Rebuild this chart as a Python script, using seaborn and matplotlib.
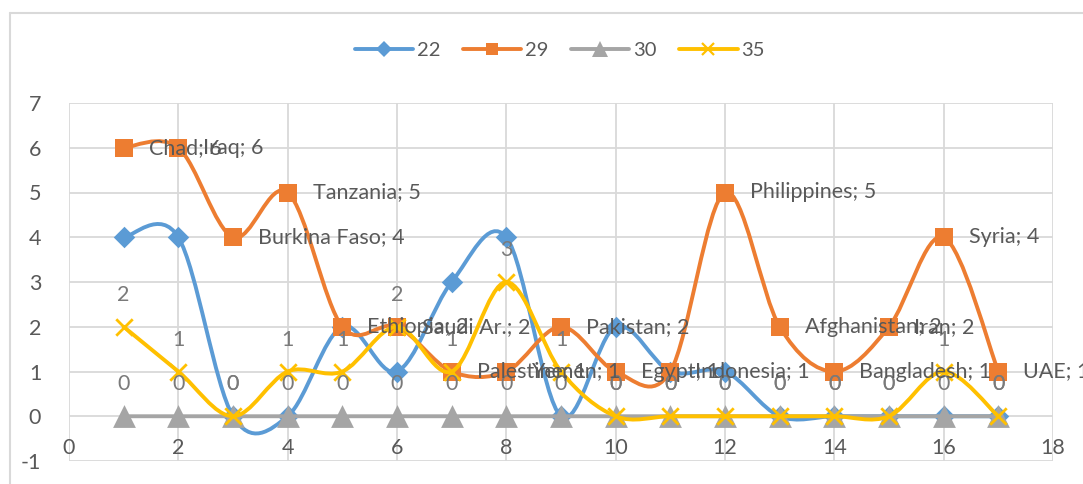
import numpy as np
import matplotlib
matplotlib.use("Agg")
import matplotlib.pyplot as plt
from matplotlib.path import Path
from matplotlib.patches import PathPatch
from matplotlib.lines import Line2D
import seaborn as sns

# ---- data ----
x_vals = list(range(1, 18))
countries = ["Chad", "Iraq", "Burkina Faso", "Tanzania", "Ethiopia", "Saudi Ar.",
             "Palestine", "Yemen", "Pakistan", "Egypt", "Indonesia", "Philippines",
             "Afghanistan", "Bangladesh", "Iran", "Syria", "UAE"]
s22 = [4, 4, 0, 0, 2, 1, 3, 4, 0, 2, 1, 1, 0, 0, 0, 0, 0]
s29 = [6, 6, 4, 5, 2, 2, 1, 1, 2, 1, 1, 5, 2, 1, 2, 4, 1]
s30 = [0, 0, 0, 0, 0, 0, 0, 0, 0, 0, 0, 0, 0, 0, 0, 0, 0]
s35 = [2, 1, 0, 1, 1, 2, 1, 3, 1, 0, 0, 0, 0, 0, 0, 1, 0]
series_names = ["22", "29", "30", "35"]
x_ticks = [0, 2, 4, 6, 8, 10, 12, 14, 16, 18]
y_ticks = [-1, 0, 1, 2, 3, 4, 5, 6, 7]

# ---- style ----
sns.set_theme(style="white")
plt.rcParams["font.family"] = ["Lato", "DejaVu Sans"]
TXT = "#595959"
LBL = "#7a7a7a"
GRID = "#d9d9d9"
colors = {"22": "#5B9BD5", "29": "#ED7D31", "30": "#A5A5A5", "35": "#FFC000"}
markers = {"22": "D", "29": "s", "30": "^", "35": "x"}
msize = {"22": 120, "29": 165, "30": 270, "35": 140}
FS = 15.5
LW = 2.8

W, H = 1083, 484
fig = plt.figure(figsize=(W / 100, H / 100), dpi=100)
fig.patch.set_facecolor("white")
ax = fig.add_axes([69 / W, 1 - 461 / H, (1053 - 69) / W, (461 - 103) / H])
ax.set_xlim(0, 18)
ax.set_ylim(-1, 7)
ax.set_xticks(x_ticks)
ax.set_yticks(y_ticks)
ax.set_yticklabels([str(v) for v in y_ticks])
ax.grid(True, color=GRID, lw=1.3, zorder=0)
ax.set_axisbelow(True)
for sp in ax.spines.values():
    sp.set_visible(False)
ax.tick_params(axis="x", length=0, labelbottom=False)
ax.tick_params(axis="y", length=0, pad=20, labelsize=FS, labelcolor=TXT)

# outer chart-area border
fig.add_artist(Line2D([10 / W, 1.0], [1 - 13 / H, 1 - 13 / H], color=GRID, lw=1.5,
                      transform=fig.transFigure))
fig.add_artist(Line2D([10 / W, 10 / W], [0, 1 - 13 / H], color=GRID, lw=1.5,
                      transform=fig.transFigure))

# x tick labels sit just under the y=0 crossing
for xt in x_ticks:
    ax.annotate(str(xt), (xt, 0), xytext=(0, -23), textcoords="offset points",
                ha="center", va="center", fontsize=FS, color=TXT)


def smooth_path(xs, ys):
    """Catmull-Rom style Bezier path through the points."""
    P = np.column_stack([xs, ys]).astype(float)
    n = len(P)
    verts = [P[0]]
    codes = [Path.MOVETO]
    for i in range(n - 1):
        p_prev = P[i - 1] if i > 0 else P[i]
        p_next = P[i + 2] if i + 2 < n else P[i + 1]
        c1 = P[i] + (P[i + 1] - p_prev) / 6.0
        c2 = P[i + 1] - (p_next - P[i]) / 6.0
        verts += [c1, c2, P[i + 1]]
        codes += [Path.CURVE4] * 3
    return Path(verts, codes)


data = {"22": s22, "29": s29, "30": s30, "35": s35}
z = 3
handles = []
for name in series_names:
    ys = data[name]
    c = colors[name]
    ax.add_patch(PathPatch(smooth_path(x_vals, ys), fill=False, edgecolor=c, lw=LW,
                           capstyle="round", joinstyle="round", zorder=z))
    if markers[name] == "x":
        sns.scatterplot(x=x_vals, y=ys, marker="x", s=msize[name], color=c,
                        linewidth=2.0, ax=ax, zorder=z + 0.5, legend=False)
    else:
        sns.scatterplot(x=x_vals, y=ys, marker=markers[name], s=msize[name], color=c,
                        edgecolor=c, linewidth=0, ax=ax, zorder=z + 0.5, legend=False)
    handles.append(Line2D([0], [0], color=c, lw=LW, marker=markers[name],
                          markersize=np.sqrt(msize[name]) * 0.7,
                          markeredgewidth=(1.6 if markers[name] == "x" else 0),
                          markeredgecolor=c, markerfacecolor=c,
                          solid_capstyle="round"))
    z += 1

# value labels above the points for series 30 and 35
for name in ["30", "35"]:
    for xv, yv in zip(x_vals, data[name]):
        ax.annotate(str(yv), (xv, yv), xytext=(0, 23), textcoords="offset points",
                    ha="center", va="center", fontsize=FS, color=LBL, zorder=20)

# country labels to the right of the series 29 points
for xv, yv, cname in zip(x_vals, s29, countries):
    ax.annotate(f"{cname}; {yv}", (xv, yv), xytext=(18, 0), textcoords="offset points",
                ha="left", va="center", fontsize=FS, color=TXT, zorder=21,
                annotation_clip=False)

fig.legend(handles, series_names, loc="center", bbox_to_anchor=(560 / W, 1 - 50 / H),
           ncol=4, frameon=False, fontsize=14.5, handlelength=2.9, handletextpad=0.2,
           columnspacing=1.1, labelcolor=TXT)

fig.savefig("out.png", dpi=100)
